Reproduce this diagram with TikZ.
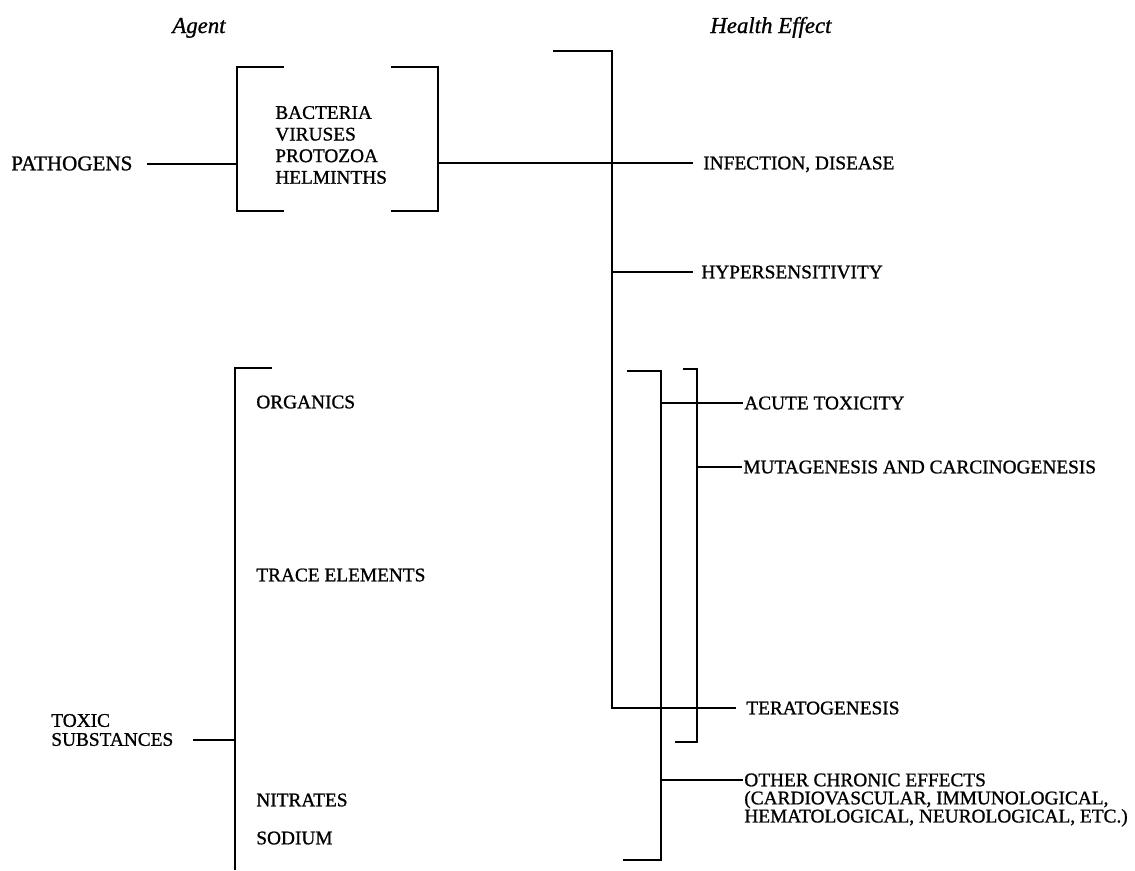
\documentclass[tikz,border=0pt]{standalone}
\usepackage{fontspec}
\setmainfont{Liberation Serif}[FakeBold=1]
\begin{document}
\begin{tikzpicture}[x=0.02cm, y=-0.02cm, line width=1.5pt,
        lbl/.style = {anchor=west, inner sep=0pt, text height=7.2pt, text depth=0pt, font=\fontsize{11}{13}\selectfont},
        multi/.style = {anchor=west, inner sep=0pt, align=left},
        head/.style = {anchor=base west, inner sep=0pt, font=\fontsize{13}{15}\selectfont\itshape}]
        \useasboundingbox (0,0) rectangle (1135,870);

        \node[head] (agent)  at (171,33) {Agent};
        \node[head] (health) at (709,33) {Health Effect};

        % agents
        \node[lbl, font=\fontsize{12}{14}\selectfont] (path) at (10,164) {PATHOGENS};
        \node[multi, font=\fontsize{11}{12.3}\selectfont] (bact) at (274,145) {BACTERIA\\VIRUSES\\PROTOZOA\\HELMINTHS};
        \node[multi, font=\fontsize{11}{10.8}\selectfont] (toxic) at (50,730) {TOXIC\\SUBSTANCES};
        \node[lbl] (org)   at (255,402) {ORGANICS};
        \node[lbl] (trace) at (255,575) {TRACE ELEMENTS};
        \node[lbl] (nitr)  at (255,800) {NITRATES};
        \node[lbl] (sod)   at (255,838) {SODIUM};

        % health effects
        \node[lbl] (inf)   at (702,163) {INFECTION, DISEASE};
        \node[lbl] (hyp)   at (700,272) {HYPERSENSITIVITY};
        \node[lbl] (acute) at (743,403) {ACUTE TOXICITY};
        \node[lbl] (muta)  at (742,467) {MUTAGENESIS AND CARCINOGENESIS};
        \node[lbl] (tera)  at (745,708) {TERATOGENESIS};
        \node[multi, font=\fontsize{11}{10.3}\selectfont] (other) at (743,800) {OTHER CHRONIC EFFECTS\\(CARDIOVASCULAR, IMMUNOLOGICAL,\\HEMATOLOGICAL, NEUROLOGICAL, ETC.)};

        % bracket corners
        \coordinate (pl) at (237,67);
        \coordinate (pr) at (438,67);
        \coordinate (big) at (612,51);
        \coordinate (mid) at (661,371);
        \coordinate (inn) at (697,369);
        \coordinate (tb) at (235,368);
        \coordinate (pin) at (147,164);
        \coordinate (tin) at (193,740);
        \coordinate (oin) at (743,780);

        % pathogens
        \draw (pl) ++(47,0) -- (pl) -- (237,211) -- ++(47,0);
        \draw (pr) ++(-47,0) -- (pr) -- (438,211) -- ++(-47,0);
        \draw (pin) -- (pin -| pl);
        \draw (inf.west -| pr) -- ([xshift=-1.9mm]inf.west);

        % toxic substances
        \draw (tb) ++(37,0) -- (tb) -- (235,870);
        \draw (tin) -- (tin -| tb);

        % outer bracket
        \draw (big) ++(-59,0) -- (big) -- (big |- tera.west) -- ([xshift=-1.8mm]tera.west);
        \draw (hyp.west -| big) -- ([xshift=-1.4mm]hyp.west);

        % middle bracket
        \draw (mid) ++(-34,0) -- (mid) -- (661,860) -- ++(-38,0);
        \draw (acute.west -| mid) -- (acute.west);
        \draw (oin -| mid) -- (oin);

        % inner bracket
        \draw (inn) ++(-14,0) -- (inn) -- (697,742) -- ++(-22,0);
        \draw[line width=1.1pt] (muta.west -| inn) -- (muta.west);

\end{tikzpicture}
\end{document}
